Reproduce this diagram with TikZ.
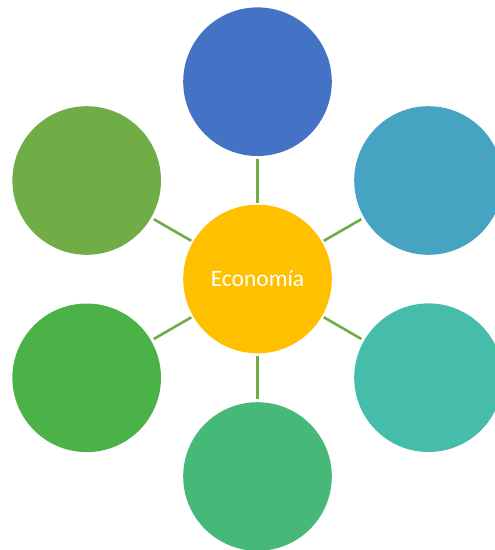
\documentclass[tikz,border=0pt]{standalone}
\usepackage{fontspec}
\setmainfont{Carlito}
\definecolor{cCenter}{HTML}{FFC000}
\definecolor{cTop}{HTML}{4472C4}
\definecolor{cUR}{HTML}{46A3C1}
\definecolor{cLR}{HTML}{46BCAA}
\definecolor{cBot}{HTML}{46B979}
\definecolor{cLL}{HTML}{4AB247}
\definecolor{cUL}{HTML}{70AD47}
\definecolor{cLine}{HTML}{70AD47}
\begin{document}
\begin{tikzpicture}[x=1pt,y=-1pt,
  bubble/.style={circle,draw=none,minimum size=148.6pt,inner sep=0pt},
  link/.style={draw=cLine,line width=2.6pt,shorten <=2pt,shorten >=3pt}]
\useasboundingbox (0,0) rectangle (495,550);
\node[bubble,fill=cCenter,text=white,font=\fontsize{23.5}{28}\selectfont] (c) at (257.5,279) {Economía};
\node[bubble,fill=cTop] (t) at (257.5,81.7) {};
\node[bubble,fill=cUR] (ur) at (428.5,180.5) {};
\node[bubble,fill=cLR] (lr) at (428.5,377.7) {};
\node[bubble,fill=cBot] (b) at (257.5,476.5) {};
\node[bubble,fill=cLL] (ll) at (86.7,377.8) {};
\node[bubble,fill=cUL] (ul) at (86.7,180.5) {};
\foreach \n in {t,ur,lr,b,ll,ul} \draw[link] (c) -- (\n);
\end{tikzpicture}
\end{document}
